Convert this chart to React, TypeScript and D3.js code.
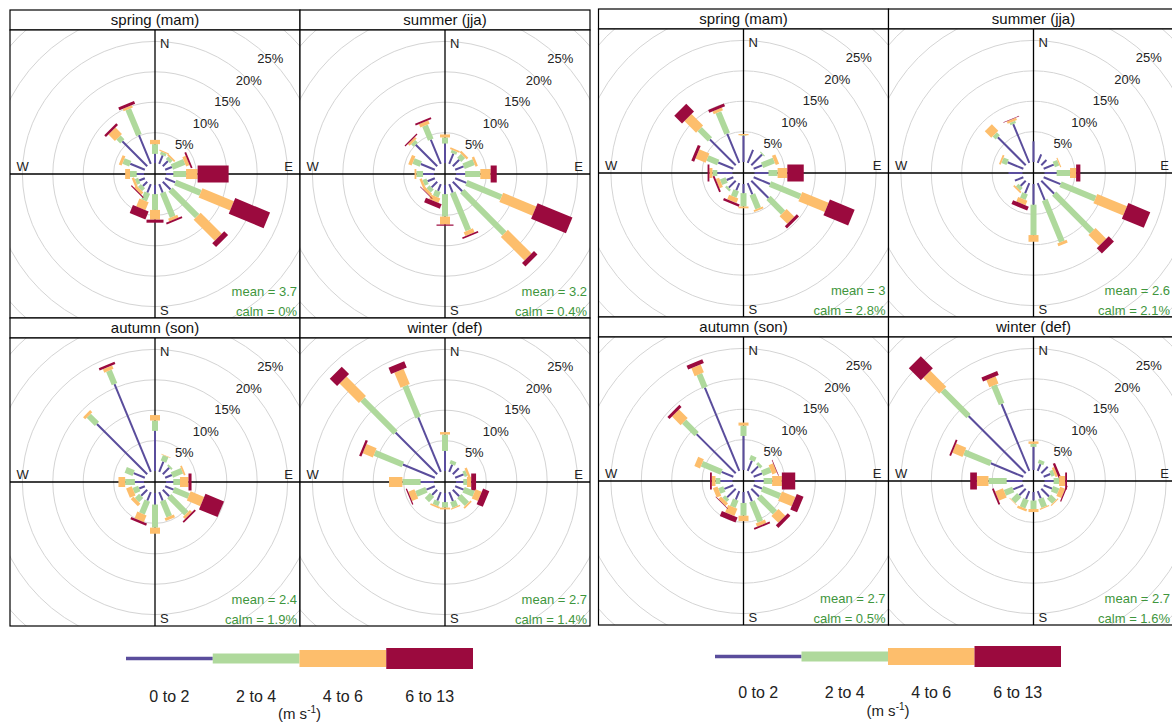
import * as d3 from 'd3'

const directions = [0, 22.5, 45, 67.5, 90, 112.5, 135, 157.5, 180, 202.5, 225, 247.5, 270, 292.5, 315, 337.5]
const speedBins = ['0 to 2', '2 to 4', '4 to 6', '6 to 13']
const binColours = ['#5a4d9c', '#afd99c', '#fdbe6c', '#9b0a3e']
const seasons = ['spring (mam)', 'summer (jja)', 'autumn (son)', 'winter (def)']
const ringTicks = [5, 10, 15, 20, 25, 30]
const labelTicks = [5, 10, 15, 20, 25]
const compassLabels = ['N', 'E', 'S', 'W']

// cumulative frequency (%) per direction N, NNE ... NNW, one value per speed bin
const leftSpring = [
  [1.5, 3.1, 3.8, 3.8], [1.5, 2.0, 2.2, 2.2], [1.2, 1.8, 2.1, 2.1], [1.2, 3.4, 4.0, 4.3],
  [1.2, 3.3, 5.2, 10.3], [1.8, 6.3, 11.9, 18.1], [1.8, 8.0, 12.9, 13.8], [1.5, 5.8, 6.3, 6.6],
  [1.5, 4.1, 5.7, 6.2], [1.5, 2.9, 4.3, 5.7], [1.0, 1.7, 2.2, 2.4], [1.0, 1.6, 2.0, 2.0],
  [1.2, 2.3, 3.1, 3.1], [2.6, 3.8, 4.3, 4.3], [5.8, 6.7, 8.2, 8.6], [5.1, 9.7, 10.1, 10.6],
]
const leftSummer = [
  [3.2, 4.2, 4.7, 4.7], [1.8, 2.3, 2.6, 2.6], [1.5, 2.4, 2.8, 2.8], [1.5, 3.3, 3.7, 3.7],
  [1.5, 4.0, 5.7, 6.7], [2.0, 8.2, 14.1, 20.3], [2.2, 12.0, 17.5, 18.3], [1.5, 8.2, 8.9, 9.2],
  [1.5, 5.2, 6.5, 6.7], [1.2, 2.2, 3.0, 3.8], [1.3, 2.0, 2.5, 2.6], [1.3, 2.0, 2.4, 2.4],
  [1.8, 2.9, 3.2, 3.2], [2.5, 3.8, 4.4, 4.4], [5.0, 5.6, 6.0, 6.2], [4.3, 6.8, 7.4, 7.7],
]
const leftAutumn = [
  [6.6, 8.3, 9.2, 9.2], [1.8, 2.8, 2.9, 2.9], [1.5, 1.8, 1.8, 1.8], [1.2, 3.0, 3.3, 3.3],
  [1.2, 2.3, 3.7, 4.2], [1.5, 4.2, 6.6, 9.9], [1.5, 5.5, 6.0, 6.3], [1.5, 4.3, 4.8, 4.8],
  [1.9, 5.7, 6.7, 6.7], [1.5, 3.8, 5.0, 5.4], [1.4, 2.4, 3.0, 3.0], [1.0, 2.0, 3.0, 3.0],
  [1.5, 3.1, 4.2, 4.2], [2.0, 3.4, 3.4, 3.4], [11.7, 13.6, 14.1, 14.1], [15.6, 18.0, 18.6, 19.0],
]
const leftWinter = [
  [3.3, 6.0, 6.4, 6.4], [1.3, 1.9, 1.9, 1.9], [1.4, 1.4, 1.4, 1.4], [1.5, 2.0, 2.4, 2.4],
  [1.2, 1.8, 2.5, 3.3], [1.5, 3.3, 4.4, 5.5], [1.5, 3.3, 3.6, 3.6], [1.6, 2.6, 2.8, 2.8],
  [1.5, 2.4, 2.7, 2.7], [1.5, 2.3, 2.6, 2.6], [1.2, 2.4, 2.4, 2.4], [1.5, 3.3, 4.4, 4.6],
  [2.2, 5.2, 7.4, 7.4], [5.7, 10.7, 12.5, 12.9], [9.7, 17.4, 21.9, 23.6], [9.7, 15.3, 18.0, 19.1],
]
const rightSpring = [
  [4.3, 4.4, 4.6, 4.6], [2.3, 2.3, 2.3, 2.3], [2.5, 2.7, 2.7, 2.7], [1.5, 3.6, 4.2, 4.2],
  [2.3, 3.8, 5.4, 8.1], [2.9, 8.3, 13.0, 17.4], [4.0, 7.4, 9.2, 9.7], [2.0, 4.5, 4.8, 4.8],
  [1.5, 3.7, 4.0, 4.0], [1.3, 2.4, 3.2, 3.6], [1.6, 2.0, 2.0, 2.0], [1.2, 2.2, 2.8, 3.1],
  [2.5, 3.3, 3.8, 4.1], [2.7, 4.6, 6.4, 6.9], [6.0, 8.4, 11.1, 12.9], [5.2, 9.0, 9.5, 10.0],
]
const rightSummer = [
  [3.4, 3.4, 3.4, 3.4], [1.5, 1.5, 1.5, 1.5], [1.2, 1.2, 1.2, 1.2], [1.8, 2.6, 2.8, 2.8],
  [2.0, 4.2, 5.2, 5.9], [3.0, 9.2, 14.5, 18.4], [3.0, 11.8, 14.3, 15.5], [3.0, 10.4, 10.9, 10.9],
  [3.4, 8.4, 9.5, 9.5], [1.8, 2.8, 3.6, 4.3], [1.2, 1.8, 2.1, 2.1], [1.5, 1.5, 1.5, 1.5],
  [2.3, 2.3, 2.3, 2.3], [2.8, 3.7, 4.0, 4.0], [6.5, 7.2, 8.7, 8.7], [6.9, 7.3, 7.7, 7.8],
]
const rightAutumn = [
  [5.6, 7.3, 7.8, 7.8], [1.8, 2.6, 2.6, 2.6], [1.6, 2.1, 2.1, 2.1], [1.5, 3.0, 3.8, 3.9],
  [1.5, 2.9, 4.5, 6.7], [1.5, 4.7, 7.1, 8.3], [1.8, 5.5, 7.1, 7.7], [1.8, 5.4, 6.0, 6.3],
  [1.8, 3.9, 4.8, 4.8], [1.5, 2.8, 4.1, 5.0], [2.0, 2.6, 3.2, 3.3], [1.6, 2.5, 3.3, 3.3],
  [2.0, 2.8, 3.4, 3.7], [2.1, 5.6, 6.6, 6.6], [9.1, 12.0, 14.0, 14.5], [14.8, 17.2, 18.6, 19.3],
]
const rightWinter = [
  [3.8, 4.3, 4.7, 4.7], [1.2, 1.8, 1.8, 1.8], [1.5, 1.5, 1.5, 1.5], [1.2, 1.8, 2.2, 2.6],
  [1.5, 2.4, 3.4, 3.7], [1.5, 2.6, 3.5, 3.7], [1.8, 3.0, 3.2, 3.2], [1.3, 2.8, 3.0, 3.0],
  [1.4, 2.8, 3.3, 3.3], [1.4, 2.9, 3.3, 3.3], [1.5, 2.9, 3.0, 3.0], [1.8, 3.3, 4.7, 5.0],
  [2.6, 5.6, 7.5, 8.6], [5.8, 10.5, 12.3, 12.6], [13.3, 19.3, 23.0, 25.8], [11.9, 15.2, 16.5, 17.2],
]

const leftMeans = ['3.7', '3.2', '2.4', '2.7']
const leftCalms = ['0%', '0.4%', '1.9%', '1.4%']
const rightMeans = ['3', '2.6', '2.7', '2.7']
const rightCalms = ['2.8%', '2.1%', '0.5%', '1.6%']

const W = 1172
const H = 723
const PANEL_W = 290
const STRIP_H = 20
const BODY_H = 288
const FONT = '"Liberation Sans", Arial, sans-serif'
const CALM_COL = '#3f963d'

const colour = d3.scaleOrdinal<string, string>().domain(speedBins).range(binColours)
const barWidth = d3.scaleOrdinal<string, number>().domain(speedBins).range([2, 6, 10, 17])
const legendHeight = d3.scaleOrdinal<string, number>().domain(speedBins).range([3.5, 10, 17, 21])
const radius = d3.scaleLinear().domain([0, 30]).range([11, 11 + 30 * 6.08])

const figures = [
  {
    id: 'l', x: 10, y: 10,
    data: [leftSpring, leftSummer, leftAutumn, leftWinter],
    means: leftMeans, calms: leftCalms,
    legend: { x0: 126, x1: 473, cy: 658.5, labelY: 702, unitY: 719 },
  },
  {
    id: 'r', x: 598.5, y: 9,
    data: [rightSpring, rightSummer, rightAutumn, rightWinter],
    means: rightMeans, calms: rightCalms,
    legend: { x0: 715, x1: 1061, cy: 656.5, labelY: 698, unitY: 716 },
  },
]

function Rose({ x, y, title, rows, mean, calm, clipId }: any) {
  const cx = x + PANEL_W / 2
  const top = y + STRIP_H
  const cy = top + BODY_H / 2
  const right = x + PANEL_W
  const bottom = top + BODY_H
  const diag = Math.SQRT1_2
  const textRight = Math.min(right - 3, W - 2)

  return (
    <g>
      <defs>
        <clipPath id={clipId}>
          <rect x={x} y={top} width={PANEL_W} height={BODY_H} />
        </clipPath>
      </defs>
      <rect x={x} y={y} width={PANEL_W} height={STRIP_H} fill="#fff" stroke="#000" strokeWidth={1.2} />
      <text x={cx} y={y + STRIP_H / 2} dy="0.36em" textAnchor="middle" fontSize={15} fill="#111">
        {title}
      </text>

      <g clipPath={`url(#${clipId})`}>
        <rect x={x} y={top} width={PANEL_W} height={BODY_H} fill="#fff" />
        {ringTicks.map(t => (
          <circle key={t} cx={cx} cy={cy} r={radius(t)} fill="none" stroke="#d4d4d4" strokeWidth={1} />
        ))}
        <line x1={cx} x2={cx} y1={top} y2={bottom} stroke="#000" strokeWidth={1.3} />
        <line x1={x} x2={right} y1={cy} y2={cy} stroke="#000" strokeWidth={1.3} />
        {rows.map((cum: number[], i: number) => (
          <g key={i} transform={`translate(${cx},${cy}) rotate(${directions[i]})`}>
            {speedBins.map((b, j) => {
              const lo = j === 0 ? 0 : cum[j - 1]
              const hi = cum[j]
              if (hi - lo <= 0) return null
              const w = barWidth(b)
              return (
                <rect key={b} x={-w / 2} y={-radius(hi)} width={w}
                  height={radius(hi) - radius(lo)} fill={colour(b)} />
              )
            })}
          </g>
        ))}
      </g>

      {labelTicks.map(t => (
        <text key={t} x={cx + radius(t) * diag} y={cy - radius(t) * diag} dy="0.36em"
          textAnchor="middle" fontSize={13} fill="#222">{`${t}%`}</text>
      ))}

      {compassLabels.map(l => {
        const pos: any = {
          N: { x: cx + 5, y: top + 13, a: 'start' },
          S: { x: cx + 5, y: bottom - 8, a: 'start' },
          W: { x: x + 6.5, y: cy - 8, a: 'start' },
          E: { x: Math.min(right - 7, W - 3), y: cy - 8, a: 'end' },
        }[l]
        return (
          <text key={l} x={pos.x} y={pos.y} dy="0.36em" textAnchor={pos.a} fontSize={13} fill="#222">{l}</text>
        )
      })}

      <text x={textRight} y={bottom - 22} textAnchor="end" fontSize={13} fill={CALM_COL}>{`mean = ${mean}`}</text>
      <text x={textRight} y={bottom - 2.5} textAnchor="end" fontSize={13} fill={CALM_COL}>{`calm = ${calm}`}</text>

      <rect x={x} y={top} width={PANEL_W} height={BODY_H} fill="none" stroke="#000" strokeWidth={1.2} />
    </g>
  )
}

function Legend({ x0, x1, cy, labelY, unitY }: any) {
  const band = d3.scaleBand<string>().domain(speedBins).range([x0, x1])
  return (
    <g>
      {speedBins.map(b => (
        <rect key={b} x={band(b)} y={cy - legendHeight(b) / 2} width={band.bandwidth()}
          height={legendHeight(b)} fill={colour(b)} />
      ))}
      {speedBins.map(b => (
        <text key={b} x={(band(b) as number) + band.bandwidth() / 2} y={labelY}
          textAnchor="middle" fontSize={16} fill="#222">{b}</text>
      ))}
      <text x={(x0 + x1) / 2} y={unitY} textAnchor="middle" fontSize={15} fill="#222">
        (m s<tspan dy={-6} fontSize={10}>-1</tspan><tspan dy={6}>)</tspan>
      </text>
    </g>
  )
}

export default function App() {
  return (
    <svg width={W} height={H} style={{ position: 'absolute', left: 0, top: 0, fontFamily: FONT, background: '#fff' }}>
      <rect width={W} height={H} fill="#fff" />
      {figures.map(f => (
        <g key={f.id}>
          {seasons.map((s, k) => (
            <Rose key={s} clipId={`clip-${f.id}-${k}`}
              x={f.x + (k % 2) * PANEL_W} y={f.y + Math.floor(k / 2) * (STRIP_H + BODY_H)}
              title={s} rows={f.data[k]} mean={f.means[k]} calm={f.calms[k]} />
          ))}
          <Legend {...f.legend} />
        </g>
      ))}
    </svg>
  )
}
